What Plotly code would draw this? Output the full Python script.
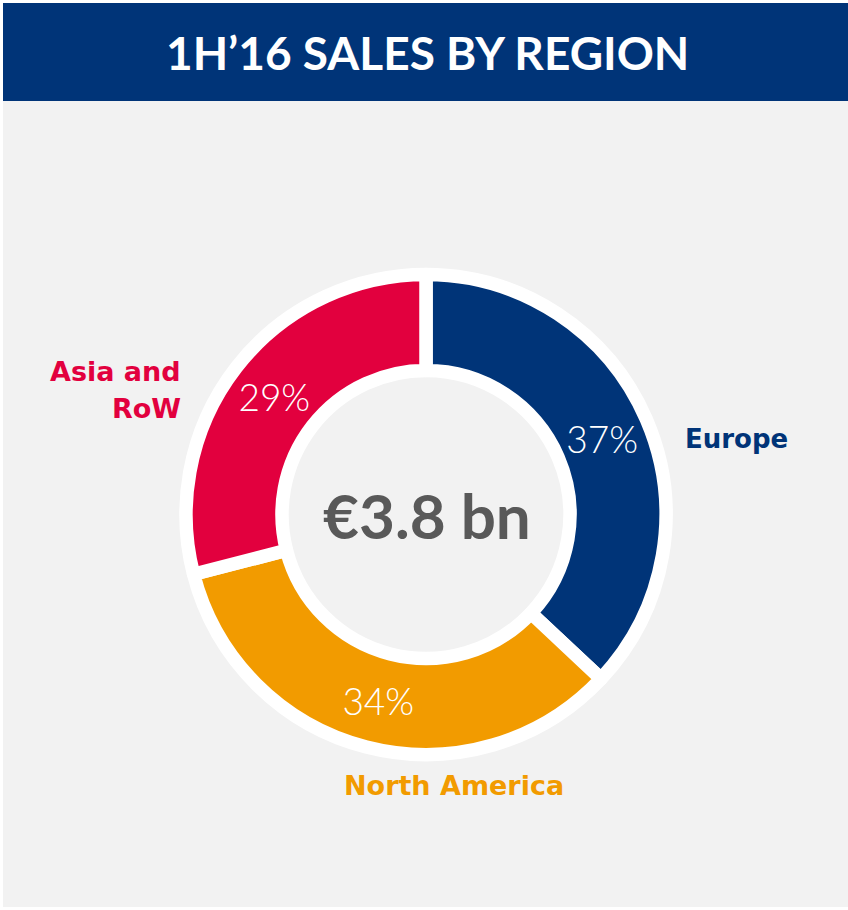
import plotly.graph_objects as go

# ---- data ----
regions = ["Europe", "North America", "Asia and RoW"]
shares = [37, 34, 29]
total_label = "€3.8 bn"
title_text = "1H’16 SALES BY REGION"

# ---- style ----
NAVY = "#003478"
RED = "#E2003E"
ORANGE = "#F29B00"
BG = "#F2F2F2"
slice_colors = [NAVY, ORANGE, RED]

W, H = 848, 910

def px(x):
    return x / W

def py(y):
    return 1 - y / H

cx, cy, R = 426, 514.5, 240

fig = go.Figure(
    go.Pie(
        labels=regions,
        values=shares,
        sort=False,
        direction="clockwise",
        rotation=0,
        hole=0.6,
        marker=dict(colors=slice_colors, line=dict(color="white", width=13.5)),
        texttemplate="%{percent:.0%}",
        textposition="inside",
        insidetextorientation="horizontal",
        textfont=dict(family="Lato, 'Noto Sans', sans-serif", size=37, color="white", weight=300),
        hoverinfo="skip",
        showlegend=False,
        domain=dict(x=[px(cx - R), px(cx + R)], y=[py(cy + R), py(cy - R)]),
    )
)

shapes = [
    dict(type="rect", xref="paper", yref="paper", x0=px(3), x1=1, y0=py(101), y1=py(3),
         fillcolor=NAVY, line=dict(width=0), layer="below"),
    dict(type="rect", xref="paper", yref="paper", x0=px(3), x1=1, y0=py(907), y1=py(101),
         fillcolor=BG, line=dict(width=0), layer="below"),
]

title_font = "Lato, 'Noto Sans', sans-serif"
label_font = "'DejaVu Sans', 'Noto Sans', sans-serif"
asia_line1, asia_line2 = regions[2].rsplit(" ", 1)
annotations = [
    dict(text=f"<b>{title_text}</b>", x=px(427), y=py(52), xref="paper", yref="paper",
         showarrow=False, xanchor="center", yanchor="middle",
         font=dict(family=title_font, size=46, color="white")),
    dict(text=f"<b>{total_label}</b>", x=px(427.5), y=py(515), xref="paper", yref="paper",
         showarrow=False, xanchor="center", yanchor="middle",
         font=dict(family=title_font, size=62, color="#595959")),
    dict(text=f"<b>{regions[0]}</b>", x=px(683), y=py(439), xref="paper", yref="paper",
         showarrow=False, xanchor="left", yanchor="middle",
         font=dict(family=label_font, size=26, color=NAVY)),
    dict(text=f"<b>{regions[1]}</b>", x=px(453.5), y=py(785), xref="paper", yref="paper",
         showarrow=False, xanchor="center", yanchor="middle",
         font=dict(family=label_font, size=27, color=ORANGE)),
    dict(text=f"<b>{asia_line1}</b>", x=px(183), y=py(371), xref="paper", yref="paper",
         showarrow=False, xanchor="right", yanchor="middle",
         font=dict(family=label_font, size=27, color=RED)),
    dict(text=f"<b>{asia_line2}</b>", x=px(183), y=py(409), xref="paper", yref="paper",
         showarrow=False, xanchor="right", yanchor="middle",
         font=dict(family=label_font, size=27, color=RED)),
]

fig.update_layout(
    width=W, height=H,
    margin=dict(l=0, r=0, t=0, b=0),
    paper_bgcolor="white",
    plot_bgcolor="white",
    shapes=shapes,
    annotations=annotations,
)

fig.write_html("out.html", config={"displayModeBar": False},
               post_script="document.body.style.margin='0';")
